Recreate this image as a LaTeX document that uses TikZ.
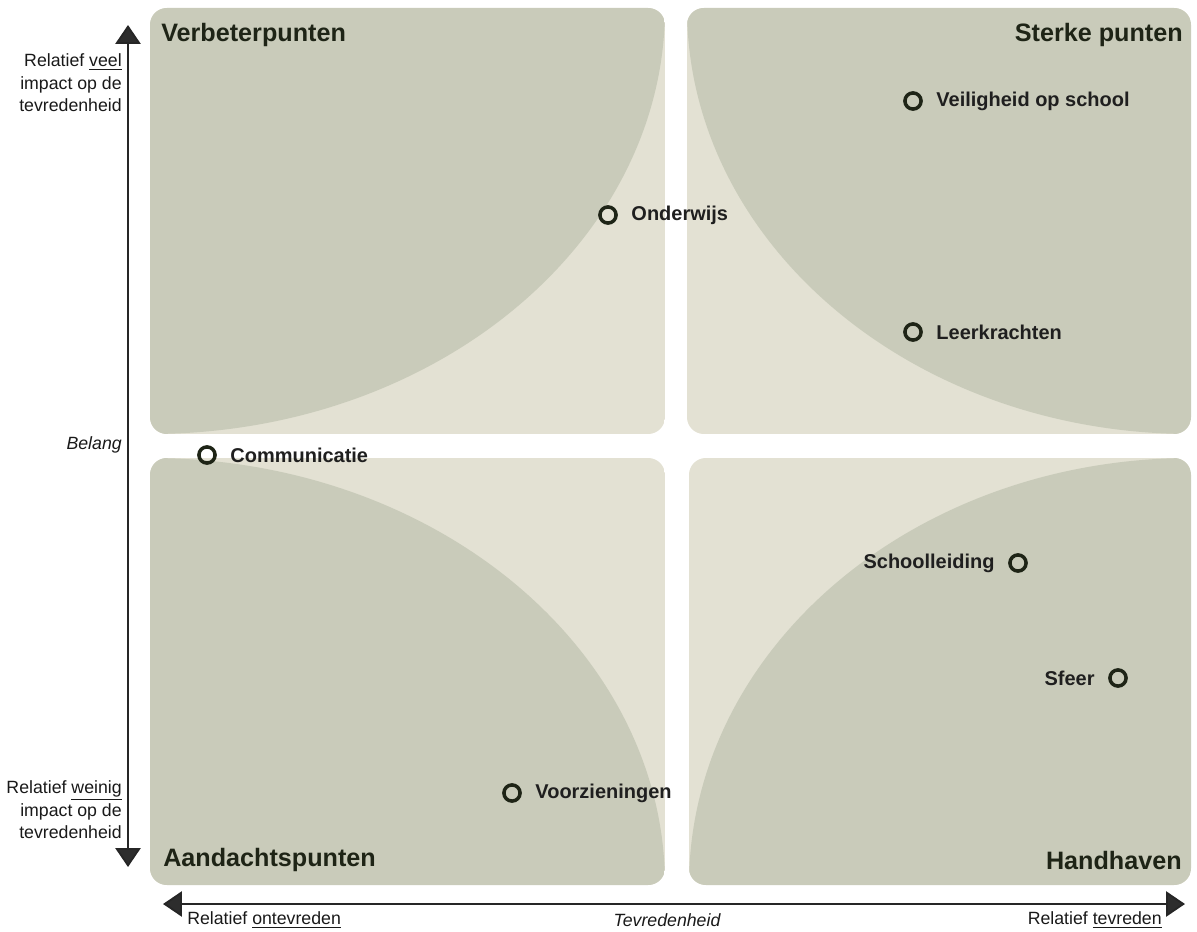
\documentclass[tikz,border=0pt]{standalone}
\usepackage{fontspec}
\setmainfont{Liberation Sans}
\usetikzlibrary{arrows.meta,positioning}
\definecolor{darksage}{RGB}{201,203,186}
\definecolor{lightsage}{RGB}{227,225,211}
\definecolor{inkdark}{RGB}{30,36,22}
\definecolor{arrowgray}{RGB}{45,45,45}

\begin{document}
\begin{tikzpicture}[x=0.025cm,y=-0.025cm,
  title/.style={font=\fontsize{17.9}{21}\selectfont\bfseries,text=inkdark,inner sep=0pt},
  side/.style={font=\fontsize{12.6}{16}\selectfont,text=black!90,inner sep=0pt},
  dot/.style={circle,draw=inkdark,line width=2.5pt,minimum size=11.5pt,inner sep=0pt},
  item/.style={font=\fontsize{14.2}{17}\selectfont\bfseries,text=black!88,inner sep=0pt},
  axis/.style={line width=1.3pt,draw=black!85,{Triangle[length=13.5pt,width=18pt,fill=arrowgray]}-{Triangle[length=13.5pt,width=18pt,fill=arrowgray]}},
  node distance=9.5pt]
\useasboundingbox (0,0) rectangle (1197,932);

% quadrant boxes
\begin{scope}
\clip[rounded corners=12pt] (150,8) rectangle (665,434);
\fill[lightsage] (150,8) rectangle (665,434);
\fill[darksage] (150,8) ellipse [x radius=515, y radius=426];
\end{scope}
\begin{scope}
\clip[rounded corners=12pt] (687,8) rectangle (1191,434);
\fill[lightsage] (687,8) rectangle (1191,434);
\fill[darksage] (1191,8) ellipse [x radius=504, y radius=426];
\end{scope}
\begin{scope}
\clip[rounded corners=12pt] (150,458) rectangle (665,885);
\fill[lightsage] (150,458) rectangle (665,885);
\fill[darksage] (150,885) ellipse [x radius=515, y radius=427];
\end{scope}
\begin{scope}
\clip[rounded corners=12pt] (689,458) rectangle (1191,885);
\fill[lightsage] (689,458) rectangle (1191,885);
\fill[darksage] (1191,885) ellipse [x radius=502, y radius=427];
\end{scope}

% titles
\node[title,anchor=west] (verbeter) at (161,35) {Verbeterpunten};
\node[title,anchor=east] (sterk) at (1183,35) {Sterke punten};
\node[title,anchor=west] (aandacht) at (163,860) {Aandachtspunten};
\node[title,anchor=east] (handhaven) at (1182,860) {Handhaven};

% axes
\coordinate (ytop) at (128,25);
\coordinate (ybot) at (128,867);
\coordinate (xleft) at (163,904);
\coordinate (xright) at (1185,904);
\draw[axis] (ytop) -- (ybot);
\draw[axis] (xleft) -- (xright);

\node[side,align=right,anchor=east] (veel) at (122,83) {Relatief \underline{veel}\\impact op de\\tevredenheid};
\node[side,anchor=east] (belang) at (122,445) {\itshape Belang};
\node[side,align=right,anchor=east] (weinig) at (122,810) {Relatief \underline{weinig}\\impact op de\\tevredenheid};
\node[side,anchor=west] (ontevreden) at (187,920) {Relatief \underline{ontevreden}};
\node[side] (tevredenheid) at (667,920) {\itshape Tevredenheid};
\node[side,anchor=east] (tevreden) at (1162,920) {Relatief \underline{tevreden}};

% items
\node[dot] (onderwijs) at (608,215) {};
\node[item,right=of onderwijs] {Onderwijs};
\node[dot] (veiligheid) at (913,101) {};
\node[item,right=of veiligheid] {Veiligheid op school};
\node[dot] (leerkrachten) at (913,332) {};
\node[item,right=of leerkrachten] {Leerkrachten};
\node[dot] (communicatie) at (207,455) {};
\node[item,right=of communicatie] {Communicatie};
\node[dot] (schoolleiding) at (1018,563) {};
\node[item,left=of schoolleiding] {Schoolleiding};
\node[dot] (sfeer) at (1118,678) {};
\node[item,left=of sfeer] {Sfeer};
\node[dot] (voorzieningen) at (512,793) {};
\node[item,right=of voorzieningen] {Voorzieningen};
\end{tikzpicture}
\end{document}
